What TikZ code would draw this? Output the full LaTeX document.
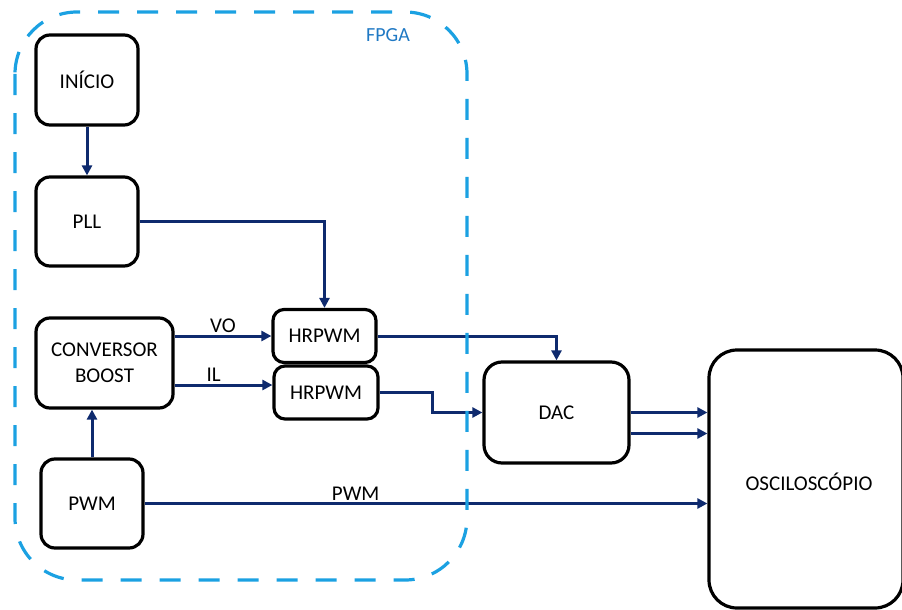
\documentclass[tikz,border=0pt]{standalone}
\usepackage{fontspec}
\setmainfont{Carlito}
\usetikzlibrary{arrows.meta}
\definecolor{navy}{HTML}{0E2A6E}
\definecolor{fpgablue}{HTML}{1BA1E2}
\definecolor{fpgatext}{HTML}{2079C4}
\tikzset{
  block/.style={draw=black, line width=3.2pt, rounded corners=14pt, fill=white,
    inner sep=0pt, align=center, font=\fontsize{21}{25.6}\selectfont},
  conn/.style={draw=navy, line width=3pt,
    -{Triangle[length=10pt,width=10pt]}},
  lbl/.style={font=\fontsize{21}{25.6}\selectfont, inner sep=2pt},
}
\begin{document}
\begin{tikzpicture}[x=1pt, y=-1pt]
  \useasboundingbox (0,0) rectangle (902,610);

  % blocks
  \node[block, minimum width=102pt, minimum height=90pt] (ini) at (87,80) {INÍCIO};
  \node[block, minimum width=102pt, minimum height=89pt] (pll) at (87,221.5) {PLL};
  \node[block, minimum width=137pt, minimum height=90pt] (conv) at (104.5,363) {CONVERSOR\\BOOST};
  \node[block, minimum width=103pt, minimum height=53pt, rounded corners=11pt] (hr1) at (324.5,336) {HRPWM};
  \node[block, minimum width=104pt, minimum height=53pt, rounded corners=11pt] (hr2) at (326,392.5) {HRPWM};
  \node[block, minimum width=102pt, minimum height=89pt] (pwm) at (92,503.5) {PWM};
  \node[block, minimum width=145pt, minimum height=101pt, rounded corners=18pt] (dac) at (556.5,412.5) {DAC};
  \node[block, minimum width=194pt, minimum height=258pt, rounded corners=28pt] (osc) at (806,479) {};
  \node[lbl] (osctext) at (809,482) {OSCILOSCÓPIO};

  % port points
  \coordinate (ilout) at ([yshift=-22pt]conv.east);
  \coordinate (dacout) at ([yshift=-21pt]dac.east);

  % signal paths
  \draw[conn] (ini) -- (pll);
  \draw[conn] (pll.east) -| (hr1.north);
  \draw[conn] (conv.east |- hr1.west) -- node[lbl, above, pos=0.5] {VO} (hr1.west);
  \draw[conn] (ilout) -- node[lbl, above, pos=0.4] {IL} (hr2.west |- ilout);
  \draw[conn] (pwm.north) -- (pwm.north |- conv.south);
  \draw[conn] (hr1.east) -| (dac.north);
  \draw[conn] (hr2.east) -- ++(53,0) |- (dac.west);
  \draw[conn] (dac.east) -- (osc.west |- dac.east);
  \draw[conn] (dacout) -- (osc.west |- dacout);
  \draw[conn] (pwm.east) -- node[lbl, above, pos=0.375] {PWM} (osc.west |- pwm.east);

  % FPGA boundary
  \draw[fpgablue, line width=3.2pt, dash pattern=on 21pt off 18pt, rounded corners=62pt]
    (15,12) rectangle (467,580);
  \node[text=fpgatext, font=\fontsize{20}{24}\selectfont] (fpga) at (388,35) {FPGA};
\end{tikzpicture}
\end{document}
